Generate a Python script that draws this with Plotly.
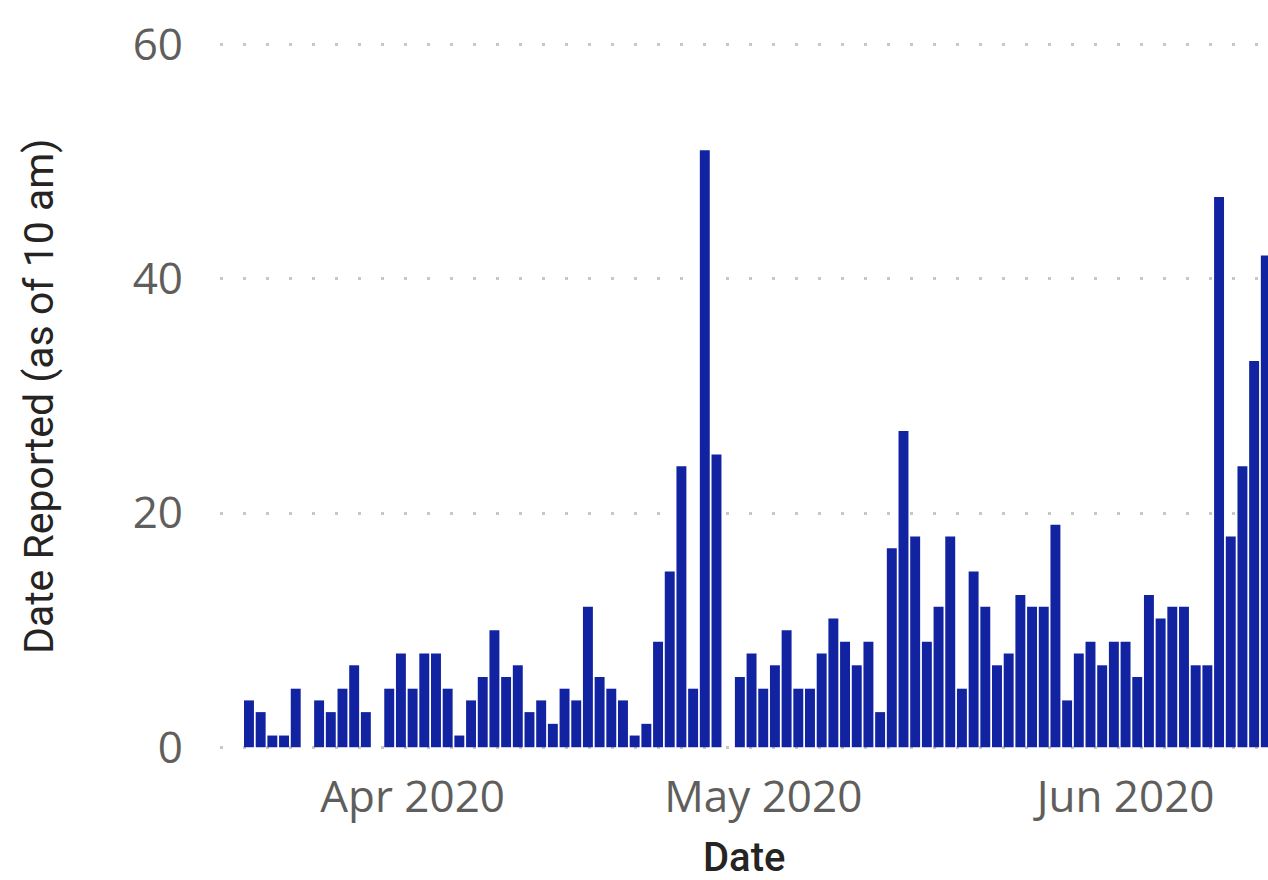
import pandas as pd
import plotly.graph_objects as go

start_date = "2020-03-18"
counts = [4, 3, 1, 1, 5, None, 4, 3, 5, 7, 3, None, 5, 8,
          5, 8, 8, 5, 1, 4, 6, 10, 6, 7, 3, 4, 2, 5, 4, 12,
          6, 5, 4, 1, 2, 9, 15, 24, 5, 51, 25, None, 6, 8,
          5, 7, 10, 5, 5, 8, 11, 9, 7, 9, 3, 17, 27, 18, 9, 12,
          18, 5, 15, 12, 7, 8, 13, 12, 12, 19, 4, 8, 9, 7, 9,
          9, 6, 13, 11, 12, 12, 7, 7, 47, 18, 24, 33, 42]
dates = pd.date_range(start_date, periods=len(counts), freq="D")

y_ticks = [0, 20, 40, 60]
x_ticks = ["2020-04-01", "2020-05-01", "2020-06-01"]
x_ticklabels = ["Apr 2020", "May 2020", "Jun 2020"]

fig = go.Figure(go.Bar(x=dates, y=counts, marker_color="#1123A0",
                       marker_line_width=0))

tick_font = dict(family="Open Sans", size=44, color="#605E5C")
plot_h = 880 - 43 - 131
fig.update_layout(
    width=1268, height=880,
    margin=dict(l=220, r=0, t=43, b=131),
    plot_bgcolor="white", paper_bgcolor="white",
    bargap=0.15, showlegend=False,
    xaxis=dict(range=["2020-03-15 12:30", "2020-06-13 04:30"],
               tickvals=x_ticks, ticktext=x_ticklabels,
               showgrid=False, zeroline=False, showline=False,
               tickfont=tick_font, ticklabelstandoff=18),
    yaxis=dict(range=[-0.15, 60.15], tickvals=y_ticks,
               showgrid=True, gridcolor="#C8C8C8", gridwidth=3,
               griddash="3px,20px", zeroline=False, showline=False,
               tickfont=tick_font, ticklabelstandoff=36),
    annotations=[
        dict(text="Date Reported (as of 10 am)", textangle=-90,
             xref="paper", yref="paper", x=(39 - 220) / 1048,
             y=(880 - 131 - 396) / plot_h,
             xanchor="center", yanchor="middle", showarrow=False,
             font=dict(family="Roboto", size=41, color="#252423",
                       weight=400)),
        dict(text="Date", xref="paper", yref="paper",
             x=0.5, y=-(857 - (880 - 131)) / plot_h,
             xanchor="center", yanchor="middle", showarrow=False,
             font=dict(family="Roboto", size=40, color="#252423",
                       weight=500)),
    ],
)

fig.write_html("out.html", config={"displayModeBar": False},
               post_script="document.body.style.margin='0';")
